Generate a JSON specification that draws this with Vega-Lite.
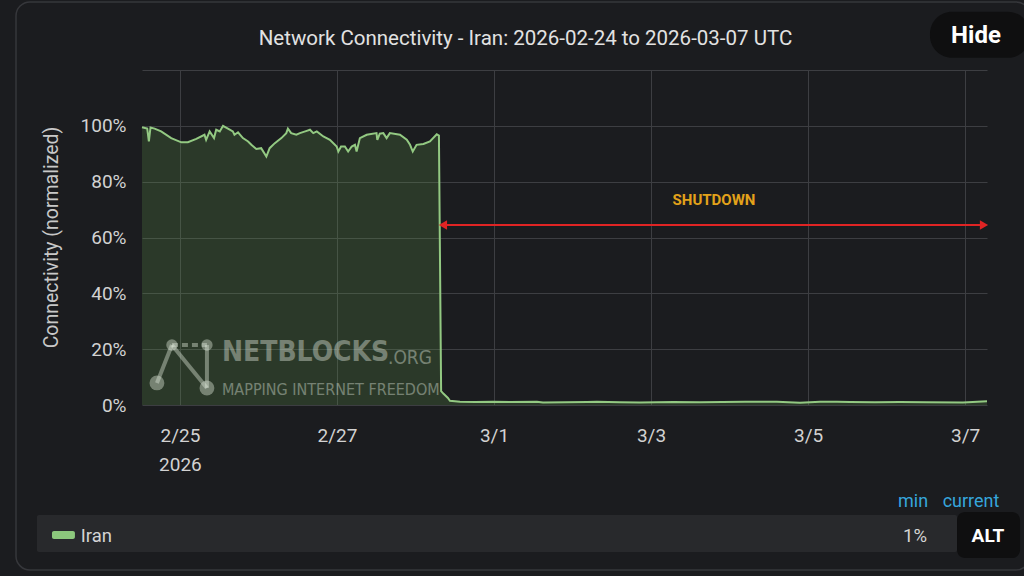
{
  "$schema": "https://vega.github.io/schema/vega-lite/v6.json",
  "autosize": "none",
  "width": 845,
  "height": 335,
  "padding": {"left": 142, "top": 70, "right": 37, "bottom": 171},
  "background": "#1b1c1f",
  "config": {
    "view": {"stroke": null},
    "axis": {"domain": false, "ticks": false, "gridColor": "#3d3e42", "gridWidth": 1, "labelFont": "Roboto", "titleFont": "Roboto", "labelColor": "#d2d2d2", "titleColor": "#c8c8c8"}
  },
  "datasets": {
    "iran": [
      {"time": "2026-02-24T12:24:00Z", "connectivity": 99.5},
      {"time": "2026-02-24T14:00:00Z", "connectivity": 99.0},
      {"time": "2026-02-24T14:30:00Z", "connectivity": 94.4},
      {"time": "2026-02-24T15:00:00Z", "connectivity": 99.4},
      {"time": "2026-02-24T16:15:00Z", "connectivity": 99.0},
      {"time": "2026-02-24T18:15:00Z", "connectivity": 98.0},
      {"time": "2026-02-24T21:20:00Z", "connectivity": 95.6},
      {"time": "2026-02-25T00:25:00Z", "connectivity": 94.1},
      {"time": "2026-02-25T02:25:00Z", "connectivity": 94.1},
      {"time": "2026-02-25T05:00:00Z", "connectivity": 95.3},
      {"time": "2026-02-25T07:30:00Z", "connectivity": 96.8},
      {"time": "2026-02-25T08:00:00Z", "connectivity": 95.0},
      {"time": "2026-02-25T09:05:00Z", "connectivity": 98.0},
      {"time": "2026-02-25T10:25:00Z", "connectivity": 95.6},
      {"time": "2026-02-25T11:05:00Z", "connectivity": 98.6},
      {"time": "2026-02-25T12:10:00Z", "connectivity": 98.0},
      {"time": "2026-02-25T13:10:00Z", "connectivity": 100.0},
      {"time": "2026-02-25T14:40:00Z", "connectivity": 99.0},
      {"time": "2026-02-25T16:10:00Z", "connectivity": 98.0},
      {"time": "2026-02-25T16:40:00Z", "connectivity": 96.8},
      {"time": "2026-02-25T17:45:00Z", "connectivity": 97.7},
      {"time": "2026-02-25T19:15:00Z", "connectivity": 95.6},
      {"time": "2026-02-25T20:50:00Z", "connectivity": 94.4},
      {"time": "2026-02-25T21:50:00Z", "connectivity": 93.2},
      {"time": "2026-02-25T23:20:00Z", "connectivity": 91.7},
      {"time": "2026-02-26T00:50:00Z", "connectivity": 92.0},
      {"time": "2026-02-26T02:25:00Z", "connectivity": 89.0},
      {"time": "2026-02-26T03:25:00Z", "connectivity": 92.0},
      {"time": "2026-02-26T05:00:00Z", "connectivity": 93.8},
      {"time": "2026-02-26T07:00:00Z", "connectivity": 95.6},
      {"time": "2026-02-26T08:30:00Z", "connectivity": 97.4},
      {"time": "2026-02-26T09:00:00Z", "connectivity": 99.0},
      {"time": "2026-02-26T10:00:00Z", "connectivity": 97.4},
      {"time": "2026-02-26T11:35:00Z", "connectivity": 96.8},
      {"time": "2026-02-26T12:40:00Z", "connectivity": 97.4},
      {"time": "2026-02-26T14:45:00Z", "connectivity": 98.2},
      {"time": "2026-02-26T15:45:00Z", "connectivity": 98.6},
      {"time": "2026-02-26T16:45:00Z", "connectivity": 97.4},
      {"time": "2026-02-26T17:50:00Z", "connectivity": 98.0},
      {"time": "2026-02-26T19:50:00Z", "connectivity": 96.2},
      {"time": "2026-02-26T21:50:00Z", "connectivity": 95.0},
      {"time": "2026-02-26T23:55:00Z", "connectivity": 92.6},
      {"time": "2026-02-27T00:25:00Z", "connectivity": 90.8},
      {"time": "2026-02-27T01:15:00Z", "connectivity": 92.6},
      {"time": "2026-02-27T02:25:00Z", "connectivity": 92.6},
      {"time": "2026-02-27T03:25:00Z", "connectivity": 90.8},
      {"time": "2026-02-27T04:30:00Z", "connectivity": 92.6},
      {"time": "2026-02-27T05:30:00Z", "connectivity": 93.2},
      {"time": "2026-02-27T06:00:00Z", "connectivity": 90.8},
      {"time": "2026-02-27T07:00:00Z", "connectivity": 95.6},
      {"time": "2026-02-27T09:05:00Z", "connectivity": 96.8},
      {"time": "2026-02-27T12:05:00Z", "connectivity": 97.4},
      {"time": "2026-02-27T12:20:00Z", "connectivity": 95.0},
      {"time": "2026-02-27T13:05:00Z", "connectivity": 97.2},
      {"time": "2026-02-27T14:10:00Z", "connectivity": 97.4},
      {"time": "2026-02-27T15:10:00Z", "connectivity": 95.6},
      {"time": "2026-02-27T16:10:00Z", "connectivity": 97.4},
      {"time": "2026-02-27T19:15:00Z", "connectivity": 96.8},
      {"time": "2026-02-27T21:20:00Z", "connectivity": 95.0},
      {"time": "2026-02-27T22:20:00Z", "connectivity": 93.2},
      {"time": "2026-02-27T23:10:00Z", "connectivity": 90.8},
      {"time": "2026-02-28T00:20:00Z", "connectivity": 93.2},
      {"time": "2026-02-28T02:25:00Z", "connectivity": 93.5},
      {"time": "2026-02-28T04:25:00Z", "connectivity": 94.4},
      {"time": "2026-02-28T06:30:00Z", "connectivity": 97.0},
      {"time": "2026-02-28T07:10:00Z", "connectivity": 96.5},
      {"time": "2026-02-28T07:50:00Z", "connectivity": 5.0},
      {"time": "2026-02-28T08:35:00Z", "connectivity": 4.0},
      {"time": "2026-02-28T09:55:00Z", "connectivity": 2.5},
      {"time": "2026-02-28T10:32:00Z", "connectivity": 1.5},
      {"time": "2026-02-28T13:36:00Z", "connectivity": 1.2},
      {"time": "2026-02-28T18:11:00Z", "connectivity": 1.1},
      {"time": "2026-02-28T23:41:00Z", "connectivity": 1.2},
      {"time": "2026-03-01T04:54:00Z", "connectivity": 1.1},
      {"time": "2026-03-01T13:08:00Z", "connectivity": 1.2},
      {"time": "2026-03-01T14:58:00Z", "connectivity": 0.9},
      {"time": "2026-03-01T21:41:00Z", "connectivity": 1.0},
      {"time": "2026-03-02T04:25:00Z", "connectivity": 1.1},
      {"time": "2026-03-02T07:28:00Z", "connectivity": 1.2},
      {"time": "2026-03-02T14:30:00Z", "connectivity": 1.0},
      {"time": "2026-03-02T20:37:00Z", "connectivity": 0.9},
      {"time": "2026-03-03T06:42:00Z", "connectivity": 1.1},
      {"time": "2026-03-03T14:57:00Z", "connectivity": 1.0},
      {"time": "2026-03-04T04:43:00Z", "connectivity": 1.2},
      {"time": "2026-03-04T14:30:00Z", "connectivity": 1.2},
      {"time": "2026-03-04T21:32:00Z", "connectivity": 0.8},
      {"time": "2026-03-05T03:39:00Z", "connectivity": 1.2},
      {"time": "2026-03-05T08:51:00Z", "connectivity": 1.2},
      {"time": "2026-03-05T12:49:00Z", "connectivity": 1.1},
      {"time": "2026-03-05T20:27:00Z", "connectivity": 1.0},
      {"time": "2026-03-06T04:06:00Z", "connectivity": 1.1},
      {"time": "2026-03-06T12:21:00Z", "connectivity": 1.0},
      {"time": "2026-03-06T23:22:00Z", "connectivity": 0.9},
      {"time": "2026-03-07T06:42:00Z", "connectivity": 1.3}
    ],
    "one": [{}]
  },
  "layer": [
    {
      "data": {"name": "iran"},
      "mark": {"type": "area", "fill": "#6fae55", "fillOpacity": 0.2, "line": {"stroke": "#93c982", "strokeWidth": 2}},
      "encoding": {
        "x": {"field": "time", "type": "temporal",
          "scale": {"type": "utc", "nice": false, "domain": [{"year": 2026, "month": 2, "date": 24, "hours": 12, "minutes": 24, "utc": true}, {"year": 2026, "month": 3, "date": 7, "hours": 6, "minutes": 42, "utc": true}]},
          "axis": {"title": null, "grid": true, "labelFontSize": 19, "labelPadding": 21, "labelLineHeight": 29, "labelFlush": false,
            "values": [{"year": 2026, "month": 2, "date": 25, "utc": true}, {"year": 2026, "month": 2, "date": 27, "utc": true}, {"year": 2026, "month": 3, "date": 1, "utc": true}, {"year": 2026, "month": 3, "date": 3, "utc": true}, {"year": 2026, "month": 3, "date": 5, "utc": true}, {"year": 2026, "month": 3, "date": 7, "utc": true}],
            "labelExpr": "datum.index == 0 ? [utcFormat(datum.value, '%-m/%-d'), '2026'] : utcFormat(datum.value, '%-m/%-d')"}},
        "y": {"field": "connectivity", "type": "quantitative",
          "scale": {"domain": [0, 120], "nice": false},
          "axis": {"title": "Connectivity (normalized)", "grid": true, "titleFontSize": 19.5, "titleFontWeight": "normal", "titleX": -91, "titleY": 167, "titleBaseline": "middle", "titleAngle": -90, "titleAlign": "center",
            "values": [0, 20, 40, 60, 80, 100, 120], "labelFontSize": 19, "labelPadding": 16,
            "labelExpr": "datum.value == 120 ? '' : datum.value + '%'"}}
      }
    },
    {
      "data": {"name": "one"},
      "mark": {"type": "rect", "fill": "transparent", "stroke": "#36373b", "strokeWidth": 1.5, "cornerRadius": 14},
      "encoding": {
        "x": {"datum": {"year": 2026, "month": 2, "date": 22, "hours": 21, "minutes": 53, "utc": true}, "type": "temporal"},
        "x2": {"datum": {"year": 2026, "month": 3, "date": 7, "hours": 19, "minutes": 50, "utc": true}},
        "y": {"datum": 144.4},
        "y2": {"datum": -59.1}
      }
    },
    {
      "data": {"name": "one"},
      "mark": {"type": "text", "text": "Network Connectivity - Iran: 2026-02-24 to 2026-03-07 UTC", "font": "Roboto", "fontSize": 20.5, "color": "#e2e2e2", "align": "center", "baseline": "middle"},
      "encoding": {
        "x": {"datum": {"year": 2026, "month": 3, "date": 1, "hours": 9, "minutes": 37, "utc": true}, "type": "temporal"},
        "y": {"datum": 131.2}
      }
    },
    {
      "data": {"name": "one"},
      "mark": {"type": "rule", "color": "#e02424", "strokeWidth": 2},
      "encoding": {
        "x": {"datum": {"year": 2026, "month": 2, "date": 28, "hours": 8, "minutes": 0, "utc": true}, "type": "temporal"},
        "x2": {"datum": {"year": 2026, "month": 3, "date": 7, "hours": 6, "minutes": 0, "utc": true}},
        "y": {"datum": 64.5}
      }
    },
    {
      "data": {"name": "one"},
      "mark": {"type": "point", "shape": "triangle-left", "filled": true, "color": "#e02424", "opacity": 1, "size": 90},
      "encoding": {
        "x": {"datum": {"year": 2026, "month": 2, "date": 28, "hours": 8, "minutes": 24, "utc": true}, "type": "temporal"},
        "y": {"datum": 64.5}
      }
    },
    {
      "data": {"name": "one"},
      "mark": {"type": "point", "shape": "triangle-right", "filled": true, "color": "#e02424", "opacity": 1, "size": 90},
      "encoding": {
        "x": {"datum": {"year": 2026, "month": 3, "date": 7, "hours": 5, "minutes": 47, "utc": true}, "type": "temporal"},
        "y": {"datum": 64.5}
      }
    },
    {
      "data": {"name": "one"},
      "mark": {"type": "text", "text": "SHUTDOWN", "font": "Roboto", "fontWeight": "bold", "fontSize": 15, "color": "#e3a21a", "align": "center", "baseline": "middle"},
      "encoding": {
        "x": {"datum": {"year": 2026, "month": 3, "date": 3, "hours": 19, "minutes": 15, "utc": true}, "type": "temporal"},
        "y": {"datum": 73.6}
      }
    },
    {
      "data": {"name": "one"},
      "mark": {"type": "text", "text": "NETBLOCKS", "font": "'DejaVu Sans Condensed', 'Roboto'", "fontWeight": "bold", "fontSize": 28, "color": "#dde6da", "opacity": 0.42, "align": "left", "baseline": "middle"},
      "encoding": {
        "x": {"datum": {"year": 2026, "month": 2, "date": 25, "hours": 12, "minutes": 50, "utc": true}, "type": "temporal"},
        "y": {"datum": 18.6}
      }
    },
    {
      "data": {"name": "one"},
      "mark": {"type": "text", "text": ".ORG", "font": "'DejaVu Sans Condensed', 'Roboto'", "fontSize": 19, "color": "#dde6da", "opacity": 0.42, "align": "left", "baseline": "middle"},
      "encoding": {
        "x": {"datum": {"year": 2026, "month": 2, "date": 27, "hours": 15, "minutes": 35, "utc": true}, "type": "temporal"},
        "y": {"datum": 16.8}
      }
    },
    {
      "data": {"name": "one"},
      "mark": {"type": "text", "text": "MAPPING INTERNET FREEDOM", "font": "'DejaVu Sans Condensed', 'Roboto'", "fontSize": 16, "color": "#dde6da", "opacity": 0.42, "align": "left", "baseline": "middle"},
      "encoding": {
        "x": {"datum": {"year": 2026, "month": 2, "date": 25, "hours": 12, "minutes": 50, "utc": true}, "type": "temporal"},
        "y": {"datum": 5.2}
      }
    },
    {
      "data": {"name": "one"},
      "mark": {"type": "rule", "color": "#dde6da", "opacity": 0.42, "strokeWidth": 4},
      "encoding": {
        "x": {"datum": {"year": 2026, "month": 2, "date": 24, "hours": 21, "minutes": 33, "utc": true}, "type": "temporal"},
        "x2": {"datum": {"year": 2026, "month": 2, "date": 24, "hours": 16, "minutes": 58, "utc": true}},
        "y": {"datum": 21.5},
        "y2": {"datum": 7.9}
      }
    },
    {
      "data": {"name": "one"},
      "mark": {"type": "rule", "color": "#dde6da", "opacity": 0.42, "strokeWidth": 4},
      "encoding": {
        "x": {"datum": {"year": 2026, "month": 2, "date": 24, "hours": 21, "minutes": 33, "utc": true}, "type": "temporal"},
        "x2": {"datum": {"year": 2026, "month": 2, "date": 25, "hours": 8, "minutes": 15, "utc": true}},
        "y": {"datum": 21.5},
        "y2": {"datum": 6.1}
      }
    },
    {
      "data": {"name": "one"},
      "mark": {"type": "rule", "color": "#dde6da", "opacity": 0.42, "strokeWidth": 4},
      "encoding": {
        "x": {"datum": {"year": 2026, "month": 2, "date": 25, "hours": 8, "minutes": 15, "utc": true}, "type": "temporal"},
        "y": {"datum": 21.5},
        "y2": {"datum": 6.1}
      }
    },
    {
      "data": {"name": "one"},
      "mark": {"type": "rule", "color": "#dde6da", "opacity": 0.42, "strokeWidth": 4, "strokeDash": [6, 4]},
      "encoding": {
        "x": {"datum": {"year": 2026, "month": 2, "date": 24, "hours": 21, "minutes": 33, "utc": true}, "type": "temporal"},
        "x2": {"datum": {"year": 2026, "month": 2, "date": 25, "hours": 8, "minutes": 15, "utc": true}},
        "y": {"datum": 21.5}
      }
    },
    {
      "data": {"name": "one"},
      "mark": {"type": "point", "shape": "circle", "filled": true, "color": "#dde6da", "opacity": 0.42, "size": 130},
      "encoding": {
        "x": {"datum": {"year": 2026, "month": 2, "date": 24, "hours": 21, "minutes": 33, "utc": true}, "type": "temporal"},
        "y": {"datum": 21.5}
      }
    },
    {
      "data": {"name": "one"},
      "mark": {"type": "point", "shape": "circle", "filled": true, "color": "#dde6da", "opacity": 0.42, "size": 130},
      "encoding": {
        "x": {"datum": {"year": 2026, "month": 2, "date": 25, "hours": 8, "minutes": 15, "utc": true}, "type": "temporal"},
        "y": {"datum": 21.5}
      }
    },
    {
      "data": {"name": "one"},
      "mark": {"type": "point", "shape": "circle", "filled": true, "color": "#dde6da", "opacity": 0.42, "size": 220},
      "encoding": {
        "x": {"datum": {"year": 2026, "month": 2, "date": 24, "hours": 16, "minutes": 58, "utc": true}, "type": "temporal"},
        "y": {"datum": 7.9}
      }
    },
    {
      "data": {"name": "one"},
      "mark": {"type": "point", "shape": "circle", "filled": true, "color": "#dde6da", "opacity": 0.42, "size": 220},
      "encoding": {
        "x": {"datum": {"year": 2026, "month": 2, "date": 25, "hours": 8, "minutes": 15, "utc": true}, "type": "temporal"},
        "y": {"datum": 6.1}
      }
    },
    {
      "data": {"name": "one"},
      "mark": {"type": "rect", "fill": "#28292c", "cornerRadius": 2},
      "encoding": {
        "x": {"datum": {"year": 2026, "month": 2, "date": 23, "hours": 4, "minutes": 17, "utc": true}, "type": "temporal"},
        "x2": {"datum": {"year": 2026, "month": 3, "date": 6, "hours": 21, "minutes": 32, "utc": true}},
        "y": {"datum": -39.43},
        "y2": {"datum": -52.69}
      }
    },
    {
      "data": {"name": "one"},
      "mark": {"type": "rect", "fill": "#8cc87c", "cornerRadius": 2},
      "encoding": {
        "x": {"datum": {"year": 2026, "month": 2, "date": 23, "hours": 8, "minutes": 53, "utc": true}, "type": "temporal"},
        "x2": {"datum": {"year": 2026, "month": 2, "date": 23, "hours": 15, "minutes": 54, "utc": true}},
        "y": {"datum": -45.16},
        "y2": {"datum": -48.03}
      }
    },
    {
      "data": {"name": "one"},
      "mark": {"type": "text", "text": "Iran", "font": "Roboto", "fontSize": 18.5, "color": "#d4d4d4", "align": "left", "baseline": "middle"},
      "encoding": {
        "x": {"datum": {"year": 2026, "month": 2, "date": 23, "hours": 17, "minutes": 42, "utc": true}, "type": "temporal"},
        "y": {"datum": -46.95}
      }
    },
    {
      "data": {"name": "one"},
      "mark": {"type": "text", "text": "1%", "font": "Roboto", "fontSize": 18.5, "color": "#d4d4d4", "align": "center", "baseline": "middle"},
      "encoding": {
        "x": {"datum": {"year": 2026, "month": 3, "date": 6, "hours": 8, "minutes": 42, "utc": true}, "type": "temporal"},
        "y": {"datum": -46.95}
      }
    },
    {
      "data": {"name": "one"},
      "mark": {"type": "text", "text": "min", "font": "Roboto", "fontSize": 18, "color": "#36a6dc", "align": "center", "baseline": "middle"},
      "encoding": {
        "x": {"datum": {"year": 2026, "month": 3, "date": 6, "hours": 8, "minutes": 5, "utc": true}, "type": "temporal"},
        "y": {"datum": -34.77}
      }
    },
    {
      "data": {"name": "one"},
      "mark": {"type": "text", "text": "current", "font": "Roboto", "fontSize": 18, "color": "#36a6dc", "align": "center", "baseline": "middle"},
      "encoding": {
        "x": {"datum": {"year": 2026, "month": 3, "date": 7, "hours": 1, "minutes": 49, "utc": true}, "type": "temporal"},
        "y": {"datum": -34.77}
      }
    },
    {
      "data": {"name": "one"},
      "mark": {"type": "rect", "fill": "#0f0f10", "cornerRadius": 8},
      "encoding": {
        "x": {"datum": {"year": 2026, "month": 3, "date": 6, "hours": 21, "minutes": 32, "utc": true}, "type": "temporal"},
        "x2": {"datum": {"year": 2026, "month": 3, "date": 7, "hours": 16, "minutes": 48, "utc": true}},
        "y": {"datum": -38.35},
        "y2": {"datum": -54.84}
      }
    },
    {
      "data": {"name": "one"},
      "mark": {"type": "text", "text": "ALT", "font": "Roboto", "fontWeight": "bold", "fontSize": 19, "color": "#ffffff", "align": "center", "baseline": "middle"},
      "encoding": {
        "x": {"datum": {"year": 2026, "month": 3, "date": 7, "hours": 7, "minutes": 0, "utc": true}, "type": "temporal"},
        "y": {"datum": -46.95}
      }
    },
    {
      "data": {"name": "one"},
      "mark": {"type": "rect", "fill": "#0f0f10", "cornerRadius": 22},
      "encoding": {
        "x": {"datum": {"year": 2026, "month": 3, "date": 6, "hours": 13, "minutes": 16, "utc": true}, "type": "temporal"},
        "x2": {"datum": {"year": 2026, "month": 3, "date": 7, "hours": 19, "minutes": 50, "utc": true}},
        "y": {"datum": 140.86},
        "y2": {"datum": 124.37}
      }
    },
    {
      "data": {"name": "one"},
      "mark": {"type": "text", "text": "Hide", "font": "Roboto", "fontWeight": "bold", "fontSize": 24, "color": "#ffffff", "align": "center", "baseline": "middle"},
      "encoding": {
        "x": {"datum": {"year": 2026, "month": 3, "date": 7, "hours": 3, "minutes": 20, "utc": true}, "type": "temporal"},
        "y": {"datum": 132.26}
      }
    }
  ]
}
